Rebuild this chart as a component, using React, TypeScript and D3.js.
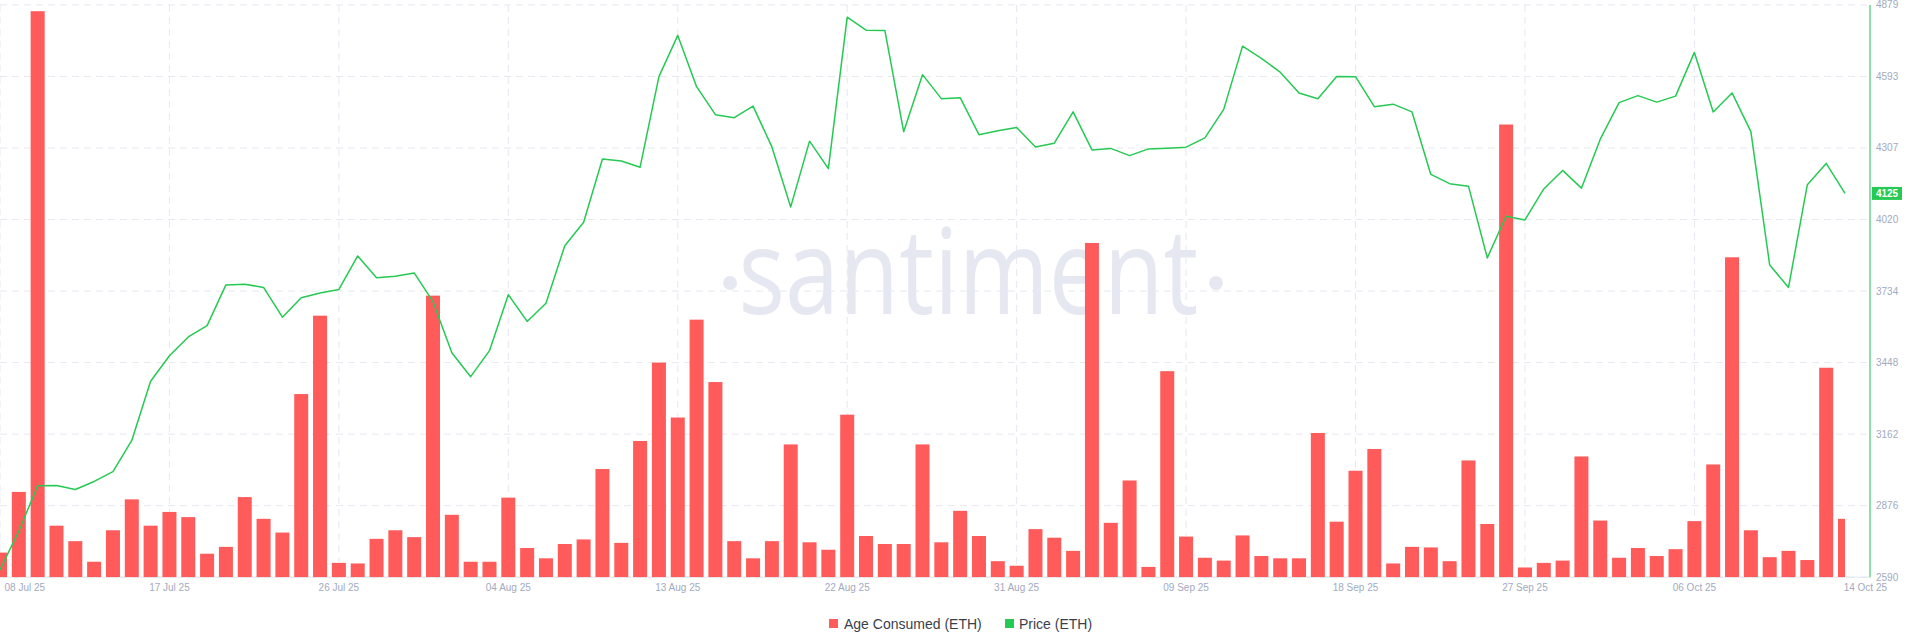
import React from "react";
import * as d3 from "d3";

// ---- data ----
const START = Date.UTC(2025, 6, 8); // 08 Jul 2025
const DAY = 86400000;

const ageConsumed = [
  43, 149, 989, 90, 63, 27, 82, 136, 90, 114,
  105, 41, 53, 140, 102, 78, 320, 457, 25, 24,
  67, 82, 70, 492, 109, 27, 27, 139, 51, 33,
  58, 66, 189, 60, 238, 375, 279, 450, 341, 63,
  33, 63, 232, 61, 48, 284, 72, 58, 58, 232,
  61, 116, 72, 28, 20, 84, 69, 46, 584, 95,
  169, 18, 360, 71, 34, 29, 73, 37, 33, 33,
  252, 97, 186, 224, 24, 53, 52, 28, 204, 93,
  791, 17, 25, 29, 211, 99, 34, 51, 37, 49,
  98, 197, 559, 82, 35, 46, 30, 366, 102,
];

const price = [
  2620, 2774, 2956, 2957, 2941, 2973, 3012, 3137, 3374, 3476,
  3551, 3596, 3759, 3762, 3749, 3630, 3708, 3727, 3741, 3875,
  3788, 3794, 3807, 3692, 3488, 3392, 3496, 3720, 3613, 3686,
  3916, 4010, 4263, 4255, 4230, 4592, 4757, 4552, 4440, 4428,
  4474, 4311, 4071, 4334, 4224, 4830, 4778, 4777, 4372, 4600,
  4504, 4508, 4360, 4376, 4389, 4311, 4326, 4451, 4299, 4305,
  4276, 4303, 4306, 4310, 4347, 4461, 4714, 4665, 4610, 4527,
  4504, 4593, 4592, 4472, 4482, 4451, 4201, 4164, 4154, 3867,
  4034, 4019, 4143, 4217, 4146, 4342, 4488, 4516, 4490, 4514,
  4689, 4451, 4527, 4372, 3839, 3749, 4160, 4245, 4125,
];

const dates = price.map((_, i) => new Date(START + i * DAY));

const priceDomain = [2590, 4879];
const priceTickLabels = ["2590", "2876", "3162", "3448", "3734", "4020", "4307", "4593", "4879"];

const xTickLabels = [
  "08 Jul 25", "17 Jul 25", "26 Jul 25", "04 Aug 25", "13 Aug 25", "22 Aug 25",
  "31 Aug 25", "09 Sep 25", "18 Sep 25", "27 Sep 25", "06 Oct 25", "14 Oct 25",
];
const xTickDayOffsets = [0, 9, 18, 27, 36, 45, 54, 63, 72, 81, 90, 98];

const ageMax = 1000;

// ---- layout ----
const W = 1908;
const H = 636;
const X0 = 0;
const X1 = 1845;
const AXIS_X = 1870;
const TOP = 4.9;
const BOTTOM = 577.2;
const BAR_W = 14;

const BAR_COLOR = "#ff5b5b";
const LINE_COLOR = "#26c953";
const GRID = "#e6e8f0";
const TICK = "#a2aac0";
const FONT = "'Liberation Sans', Arial, sans-serif";

export default function App() {
  const x = d3.scaleUtc().domain([dates[0], dates[dates.length - 1]]).range([X0, X1]);
  const yP = d3.scaleLinear().domain(priceDomain).range([BOTTOM, TOP]);
  const yA = d3.scaleLinear().domain([0, ageMax]).range([BOTTOM, TOP]);

  const line = d3
    .line<number>()
    .x((_, i) => x(dates[i]))
    .y((d) => yP(d));

  const gridVals = d3.range(priceTickLabels.length).map(
    (k) => priceDomain[0] + (k * (priceDomain[1] - priceDomain[0])) / (priceTickLabels.length - 1)
  );

  const last = price[price.length - 1];
  const lastY = yP(last);

  return (
    <svg
      width={W}
      height={H}
      style={{ position: "absolute", left: 0, top: 0, background: "#fff" }}
    >
      <defs>
        <clipPath id="plotClip">
          <rect x={X0} y={0} width={X1 - X0} height={BOTTOM} />
        </clipPath>
      </defs>

      {/* horizontal grid */}
      {gridVals.map((v, k) => (
        <line
          key={"hg" + k}
          x1={0}
          x2={AXIS_X}
          y1={yP(v)}
          y2={yP(v)}
          stroke={GRID}
          strokeWidth={1}
          strokeDasharray="7 5"
        />
      ))}
      {/* vertical grid */}
      {xTickDayOffsets.slice(0, -1).map((d, k) => {
        const xx = x(new Date(START + d * DAY));
        return (
          <line
            key={"vg" + k}
            x1={xx}
            x2={xx}
            y1={TOP}
            y2={BOTTOM}
            stroke={GRID}
            strokeWidth={1}
            strokeDasharray="7 5"
          />
        );
      })}

      {/* watermark */}
      <g fill="#e6e8f1">
        <text
          transform={`translate(738.6,314) scale(0.82,1)`}
          fontFamily="'Open Sans', sans-serif"
          fontSize={119}
        >
          santiment
        </text>
        <circle cx={730} cy={283} r={7} />
        <circle cx={1216} cy={283} r={7} />
      </g>

      {/* bottom axis line */}
      <line x1={0} x2={AXIS_X} y1={BOTTOM} y2={BOTTOM} stroke="#e3e6ee" strokeWidth={1} />

      {/* bars */}
      <g clipPath="url(#plotClip)">
        {ageConsumed.map((v, i) => (
          <rect
            key={"b" + i}
            x={x(dates[i]) - BAR_W / 2}
            y={yA(v)}
            width={BAR_W}
            height={BOTTOM - yA(v)}
            fill={BAR_COLOR}
          />
        ))}
      </g>

      {/* price line */}
      <path d={line(price) || ""} fill="none" stroke={LINE_COLOR} strokeWidth={1.5} strokeLinejoin="round" />

      {/* right axis */}
      <line x1={AXIS_X} x2={AXIS_X} y1={TOP} y2={BOTTOM} stroke="#8fdea6" strokeWidth={2} />
      {gridVals.map((v, k) => (
        <text
          key={"yt" + k}
          x={1876}
          y={yP(v)}
          dy="0.35em"
          fontFamily={FONT}
          fontSize={10}
          fill={TICK}
        >
          {priceTickLabels[k]}
        </text>
      ))}

      {/* last value badge */}
      <rect x={1872} y={lastY - 6.5} width={30} height={13} fill="#26c953" />
      <text
        x={1887}
        y={lastY}
        dy="0.36em"
        textAnchor="middle"
        fontFamily={FONT}
        fontSize={10}
        fontWeight="bold"
        fill="#fff"
      >
        {String(last)}
      </text>

      {/* x tick labels */}
      {xTickLabels.map((lab, k) => {
        const xx = x(new Date(START + xTickDayOffsets[k] * DAY));
        const first = k === 0;
        const lastL = k === xTickLabels.length - 1;
        return (
          <text
            key={"xt" + k}
            x={first ? xx + 4.5 : lastL ? xx + 42 : xx}
            y={591}
            textAnchor={first ? "start" : lastL ? "end" : "middle"}
            fontFamily={FONT}
            fontSize={10}
            fill={TICK}
          >
            {lab}
          </text>
        );
      })}

      {/* legend */}
      <g fontFamily={FONT} fontSize={14} fill="#3a3f4c">
        <rect x={829} y={619} width={9} height={9} fill={BAR_COLOR} />
        <text x={844} y={628.5}>Age Consumed (ETH)</text>
        <rect x={1005} y={619} width={9} height={9} fill={LINE_COLOR} />
        <text x={1019} y={628.5}>Price (ETH)</text>
      </g>
    </svg>
  );
}
